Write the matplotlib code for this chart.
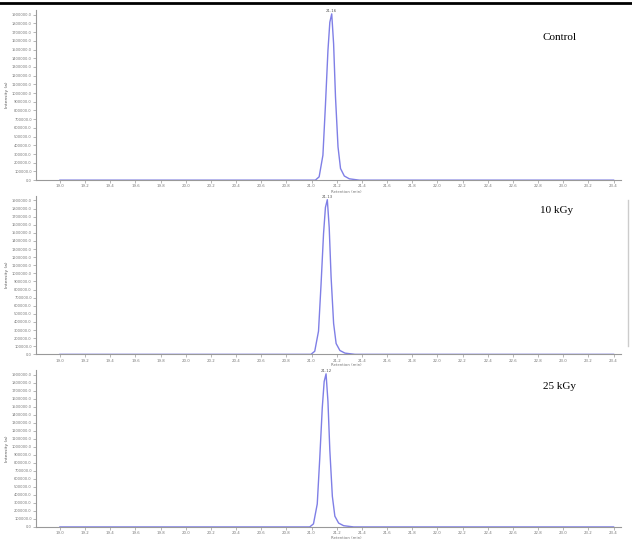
import numpy as np
import matplotlib.pyplot as plt
from matplotlib.lines import Line2D

# panel names
labels = ['Control', '10 kGy', '25 kGy']

# retention time (min) / normalised intensity
t_control = [19.00, 21.03, 21.06, 21.09, 21.11, 21.13, 21.145, 21.16, 21.175, 21.19, 21.21, 21.23, 21.26, 21.30, 21.38, 23.40]
y_control = [0.0, 0.0, 0.02, 0.15, 0.45, 0.78, 0.95, 1.0, 0.82, 0.5, 0.2, 0.07, 0.025, 0.008, 0.0, 0.0]

t_10kgy = [19.00, 20.995, 21.025, 21.055, 21.075, 21.095, 21.11, 21.125, 21.14, 21.155, 21.175, 21.195, 21.225, 21.265, 21.345, 23.40]
y_10kgy = [0.0, 0.0, 0.02, 0.15, 0.45, 0.78, 0.95, 1.0, 0.82, 0.5, 0.2, 0.07, 0.025, 0.008, 0.0, 0.0]

t_25kgy = [19.00, 20.985, 21.015, 21.045, 21.065, 21.085, 21.10, 21.115, 21.13, 21.145, 21.165, 21.185, 21.215, 21.255, 21.335, 23.40]
y_25kgy = [0.0, 0.0, 0.02, 0.15, 0.45, 0.78, 0.95, 1.0, 0.82, 0.5, 0.2, 0.07, 0.025, 0.008, 0.0, 0.0]

apex = ['21.16', '21.13', '21.12']

xticks = [19.0, 19.2, 19.4, 19.6, 19.8, 20.0, 20.2, 20.4, 20.6, 20.8, 21.0, 21.2,
          21.4, 21.6, 21.8, 22.0, 22.2, 22.4, 22.6, 22.8, 23.0, 23.2, 23.4]
yticks = [0, 100000, 200000, 300000, 400000, 500000, 600000, 700000, 800000, 900000,
          1000000, 1100000, 1200000, 1300000, 1400000, 1500000, 1600000, 1700000,
          1800000, 1900000]
ymax = 1900000

series = [(t_control, y_control), (t_10kgy, y_10kgy), (t_25kgy, y_25kgy)]

fig = plt.figure(figsize=(6.32, 5.41), dpi=100)
boxes = [[0.057, 0.667, 0.925, 0.315],
         [0.057, 0.345, 0.925, 0.293],
         [0.057, 0.026, 0.925, 0.290]]
lab_pos = [(0.885, 0.93), (0.88, 0.61), (0.885, 0.285)]

for i, (t, y) in enumerate(series):
    ax = fig.add_axes(boxes[i])
    ax.plot(t, np.array(y) * ymax * 1.005, color='#7f7fe6', lw=1.0)
    ax.set_xlim(18.81, 23.456)
    ax.set_ylim(0, ymax * 1.03)
    ax.set_xticks(xticks)
    ax.set_xticklabels(['%.1f' % v for v in xticks], fontsize=2.8, color='#777777')
    ax.set_yticks(yticks)
    ax.set_yticklabels(['%.1f' % v for v in yticks], fontsize=2.6, color='#777777')
    ax.tick_params(length=2, width=0.5, color='#999999', pad=1)
    for s in ['top', 'right']:
        ax.spines[s].set_visible(False)
    for s in ['left', 'bottom']:
        ax.spines[s].set_color('#999999')
        ax.spines[s].set_linewidth(0.8)
    ax.set_ylabel('Intensity (a)', fontsize=3.2, color='#555555', labelpad=2)
    ax.set_xlabel('Retention (min)', fontsize=2.8, color='#777777')
    ax.xaxis.set_label_coords(0.53, -0.055)
    i_top = int(np.argmax(y))
    ax.text(t[i_top], ymax * 1.012, apex[i], fontsize=2.8, color='#555555',
            ha='center', va='bottom')
    fig.text(lab_pos[i][0], lab_pos[i][1], labels[i], fontsize=8,
             family='Liberation Serif', ha='center', va='center')

fig.add_artist(Line2D([0, 1], [0.995, 0.995], color='black', lw=2))
fig.add_artist(Line2D([0.994, 0.994], [0.36, 0.63], color='#cccccc', lw=1))

fig.savefig('out.png', dpi=100)
